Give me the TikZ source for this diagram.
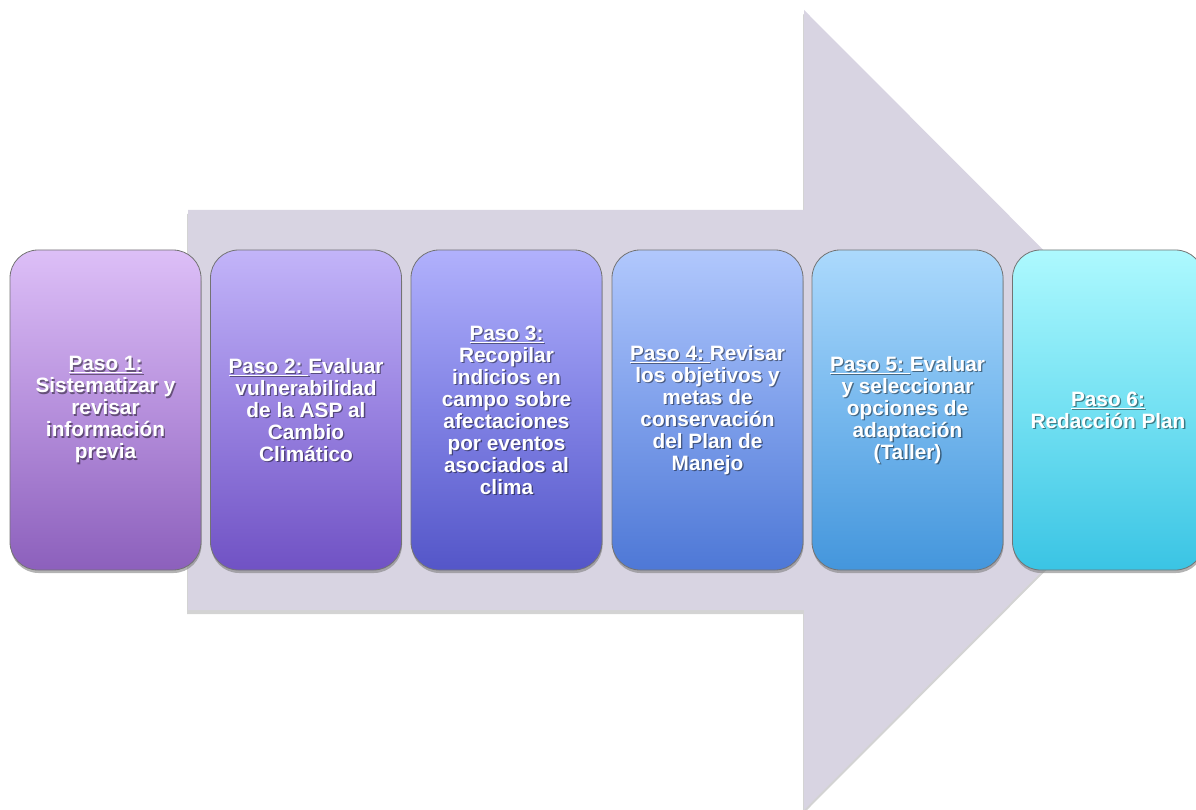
\documentclass[tikz,border=0pt]{standalone}
\usepackage{fontspec}
\setmainfont{Liberation Sans}
\usetikzlibrary{shadows}
\definecolor{arrowgray}{RGB}{216,212,226}
\definecolor{c1t}{RGB}{216,182,246}\definecolor{c1b}{RGB}{140,96,188}
\definecolor{c2t}{RGB}{186,170,248}\definecolor{c2b}{RGB}{112,82,196}
\definecolor{c3t}{RGB}{166,166,252}\definecolor{c3b}{RGB}{84,86,200}
\definecolor{c4t}{RGB}{166,192,252}\definecolor{c4b}{RGB}{78,120,214}
\definecolor{c5t}{RGB}{160,212,252}\definecolor{c5b}{RGB}{68,150,220}
\definecolor{c6t}{RGB}{162,248,254}\definecolor{c6b}{RGB}{58,196,228}
\tikzset{
  pasostyle/.style={draw=black!55, line width=0.8pt, rounded corners=28pt,
    minimum width=191pt, minimum height=320pt, inner sep=0pt,
    drop shadow={opacity=0.6, shadow xshift=0.5pt, shadow yshift=-3pt}},
  txt/.style={text=white, font=\bfseries\fontsize{20.8}{22}\selectfont,
    align=center, inner sep=0pt},
  txtshadow/.style={txt, text=black, text opacity=0.45},
}
\newcommand{\pasobox}[5]{%
  \node[pasostyle, top color=#3!88!white, bottom color=#4, middle color=#3!55!#4] (#1) at (#2,410) {};
  \node[txtshadow] at ([shift={(1.3,1.3)}]#1.center) {#5};
  \node[txt] (#1t) at (#1.center) {#5};
}
\begin{document}
\begin{tikzpicture}[x=1pt,y=-1pt]
\useasboundingbox (0,0) rectangle (1196,810);
\clip (0,0) rectangle (1196,810);
\fill[arrowgray, drop shadow={opacity=0.35, shadow xshift=-1pt, shadow yshift=-4pt}]
  (188,210) -- (804,210) -- (804,10) -- (1203,410) -- (804,810) -- (804,610) -- (188,610) -- cycle;
\pasobox{p1}{105.5}{c1t}{c1b}{\underline{Paso 1:}\\Sistematizar y\\revisar\\información\\previa}
\pasobox{p2}{306}{c2t}{c2b}{\underline{Paso 2:\ }Evaluar\\vulnerabilidad\\de la ASP al\\Cambio\\Climático}
\pasobox{p3}{506.5}{c3t}{c3b}{\underline{Paso 3:}\\Recopilar\\indicios en\\campo sobre\\afectaciones\\por eventos\\asociados al\\clima}
\pasobox{p4}{707.5}{c4t}{c4b}{\underline{Paso 4:\ }Revisar\\los objetivos y\\metas de\\conservación\\del Plan de\\Manejo}
\pasobox{p5}{907.5}{c5t}{c5b}{\underline{Paso 5:\ }Evaluar\\y seleccionar\\opciones de\\adaptación\\(Taller)}
\pasobox{p6}{1108}{c6t}{c6b}{\underline{Paso 6:}\\Redacción Plan}
\end{tikzpicture}
\end{document}
